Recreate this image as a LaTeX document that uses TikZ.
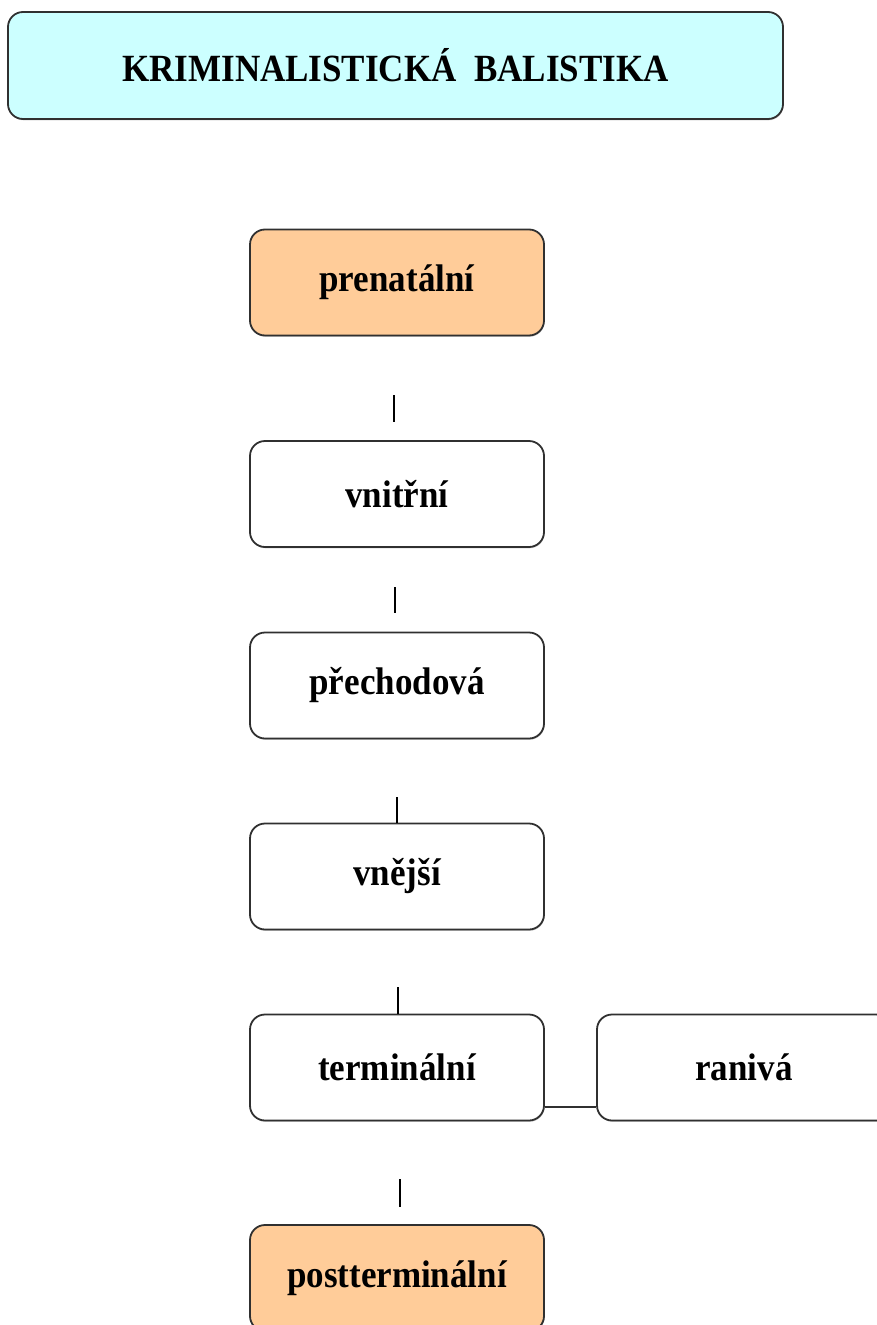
\documentclass[tikz,border=0pt]{standalone}
\usepackage{fontspec}
\usepackage{graphicx}
\setmainfont{Liberation Serif}
\usetikzlibrary{shadows}
\definecolor{titlefill}{HTML}{CCFFFF}
\definecolor{orangefill}{HTML}{FFCC99}
\definecolor{bordercol}{HTML}{303030}
\newcommand{\tallbox}[1]{\scalebox{1}[1.1]{#1}}
\tikzset{
  box/.style={draw=bordercol, line width=1.8pt, rounded corners=15pt, fill=white,
    minimum width=294pt, minimum height=106pt, inner sep=0pt,
    font=\fontsize{35}{40}\selectfont\bfseries,
    drop shadow={shadow xshift=0.6pt, shadow yshift=-1.3pt, fill=black!40, opacity=0.5}},
  orangebox/.style={box, fill=orangefill},
  titlebox/.style={box, fill=titlefill, minimum width=775pt, minimum height=107pt},
  conn/.style={draw=black, line width=1.7pt}
}
\begin{document}
\begin{tikzpicture}[x=1pt,y=-1pt]
\useasboundingbox (0,0) rectangle (877,1325);
\node[titlebox] (title) at (395.5,65.5) {\tallbox{KRIMINALISTICKÁ\ \ BALISTIKA}};
\node[orangebox] (prenat) at (397,282.5) {\tallbox{prenatální}};
\node[box] (vnitr) at (397,494) {\tallbox{vnitřní}};
\node[box] (prech) at (397,685.5) {\tallbox{přechodová}};
\node[box] (vnej) at (397,876.5) {\tallbox{vnější}};
\node[box] (term) at (397,1067.5) {\tallbox{terminální}};
\node[box] (raniv) at (744,1067.5) {\tallbox{ranivá}};
\node[orangebox] (postt) at (397,1278) {\tallbox{postterminální}};
% free connector fragments
\coordinate (c1a) at (394,395);
\coordinate (c1b) at (394,422);
\coordinate (c2a) at (395,587);
\coordinate (c2b) at (395,613);
\coordinate (c3a) at (397,797);
\coordinate (c4a) at (398,987);
\coordinate (c5a) at (400,1179);
\coordinate (c5b) at (400,1207);
\draw[conn] (c1a) -- (c1b);
\draw[conn] (c2a) -- (c2b);
\draw[conn] (c3a) -- (c3a |- vnej.north);
\draw[conn] (c4a) -- (c4a |- term.north);
\draw[conn] (c5a) -- (c5b);
\draw[draw=bordercol, line width=1.6pt] ([yshift=-39.5pt]term.east) -- ([yshift=-39.5pt]raniv.west);
\end{tikzpicture}
\end{document}
